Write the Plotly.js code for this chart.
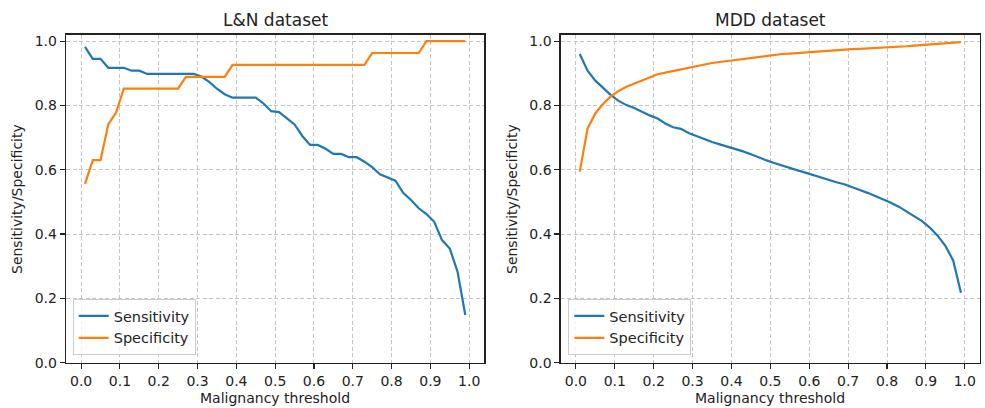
<!DOCTYPE html>
<html>
<head>
<meta charset="utf-8">
<script src="https://cdn.plot.ly/plotly-3.0.1.min.js"></script>
<style>html,body{margin:0;padding:0;background:#fff;}#chart{width:985px;height:408px;}</style>
</head>
<body>
<div id="chart"></div>
<script>
// Thresholds (shared by both panels)
const thresholds = [0.01,0.03,0.05,0.07,0.09,0.11,0.13,0.15,0.17,0.19,0.21,0.23,0.25,0.27,0.29,0.31,0.33,0.35,0.37,0.39,0.41,0.43,0.45,0.47,0.49,0.51,0.53,0.55,0.57,0.59,0.61,0.63,0.65,0.67,0.69,0.71,0.73,0.75,0.77,0.79,0.81,0.83,0.85,0.87,0.89,0.91,0.93,0.95,0.97,0.99];

// L&N dataset
const lnSensitivity = [0.982,0.945,0.945,0.917,0.917,0.917,0.908,0.908,0.898,0.898,0.898,0.898,0.898,0.898,0.898,0.890,0.873,0.852,0.835,0.824,0.824,0.824,0.824,0.806,0.782,0.779,0.760,0.741,0.705,0.677,0.677,0.665,0.649,0.649,0.639,0.639,0.625,0.608,0.586,0.575,0.566,0.528,0.506,0.480,0.462,0.438,0.381,0.355,0.283,0.148];
const lnSpecificity = [0.556,0.630,0.630,0.741,0.778,0.852,0.852,0.852,0.852,0.852,0.852,0.852,0.852,0.889,0.889,0.889,0.889,0.889,0.889,0.926,0.926,0.926,0.926,0.926,0.926,0.926,0.926,0.926,0.926,0.926,0.926,0.926,0.926,0.926,0.926,0.926,0.926,0.963,0.963,0.963,0.963,0.963,0.963,0.963,1.0,1.0,1.0,1.0,1.0,1.0];

// MDD dataset
const mddSensitivity = [0.960,0.908,0.877,0.853,0.832,0.814,0.801,0.792,0.780,0.769,0.759,0.744,0.732,0.727,0.714,0.705,0.694,0.686,0.679,0.672,0.666,0.657,0.648,0.638,0.629,0.621,0.613,0.604,0.598,0.591,0.583,0.575,0.567,0.561,0.555,0.545,0.537,0.528,0.518,0.509,0.497,0.485,0.470,0.455,0.440,0.420,0.395,0.363,0.318,0.217];
const mddSpecificity = [0.594,0.728,0.775,0.805,0.828,0.845,0.858,0.868,0.877,0.888,0.897,0.902,0.907,0.913,0.918,0.922,0.928,0.932,0.935,0.938,0.942,0.946,0.948,0.951,0.953,0.956,0.960,0.961,0.963,0.965,0.967,0.968,0.970,0.972,0.974,0.975,0.976,0.977,0.978,0.979,0.980,0.982,0.984,0.986,0.988,0.990,0.991,0.992,0.994,0.997];

const titles = ["L&N dataset", "MDD dataset"];
const xTitle = "Malignancy threshold";
const yTitle = "Sensitivity/Specificity";
const seriesNames = ["Sensitivity", "Specificity"];

const BLUE = "#1f77b4", ORANGE = "#ff7f0e";
const FONT = "DejaVu Sans, Verdana, sans-serif";
const W = 985, H = 408;
const LW = 2.2;

const traces = [
  {x: thresholds, y: lnSensitivity, name: seriesNames[0], mode: "lines", line: {color: BLUE, width: LW}, xaxis: "x", yaxis: "y", legend: "legend"},
  {x: thresholds, y: lnSpecificity, name: seriesNames[1], mode: "lines", line: {color: ORANGE, width: LW}, xaxis: "x", yaxis: "y", legend: "legend"},
  {x: thresholds, y: mddSensitivity, name: seriesNames[0], mode: "lines", line: {color: BLUE, width: LW}, xaxis: "x2", yaxis: "y2", legend: "legend2"},
  {x: thresholds, y: mddSpecificity, name: seriesNames[1], mode: "lines", line: {color: ORANGE, width: LW}, xaxis: "x2", yaxis: "y2", legend: "legend2"}
];

// pixel frame positions
const px = v => v / W, py = v => 1 - v / H;
const yDom = [py(362.6), py(34.7)];

const GRID = {showgrid: true, gridcolor: "#c4c4c4", griddash: "4px,2.5px", gridwidth: 1};

function xAxis(domain, anchor) {
  return Object.assign({
    domain: domain, anchor: anchor, range: [-0.039, 1.039],
    tickmode: "linear", tick0: 0, dtick: 0.1, tickformat: ".1f",
    showline: true, mirror: true, linecolor: "#222", linewidth: 1.3,
    ticks: "outside", ticklen: 5, tickcolor: "#222", tickwidth: 1.1,
    zeroline: false, automargin: false,
    tickfont: {family: FONT, size: 14, color: "#222"}
  }, GRID);
}
function yAxis(anchor) {
  return Object.assign({
    domain: yDom, anchor: anchor, range: [0, 1.02],
    tickmode: "array", tickvals: [0, 0.2, 0.4, 0.6, 0.8, 1.0], tickformat: ".1f",
    showline: true, mirror: true, linecolor: "#222", linewidth: 1.3,
    ticks: "outside", ticklen: 5, tickcolor: "#222", tickwidth: 1.1,
    zeroline: false, automargin: false,
    tickfont: {family: FONT, size: 14, color: "#222"}
  }, GRID);
}

const legendStyle = (xpx) => ({
  x: px(xpx), y: py(355), xanchor: "left", yanchor: "bottom",
  bgcolor: "rgba(255,255,255,0.8)", bordercolor: "#cccccc", borderwidth: 1,
  font: {family: FONT, size: 14.5, color: "#222"},
  itemwidth: 30, tracegroupgap: 0
});

const ann = [];
const centers = [275, 770];
for (let i = 0; i < 2; i++) {
  ann.push({text: titles[i], x: px(centers[i]), y: py(20), xref: "paper", yref: "paper", showarrow: false,
    xanchor: "center", yanchor: "middle", font: {family: FONT, size: 17, color: "#222"}});
  ann.push({text: xTitle, x: px(centers[i]), y: py(398), xref: "paper", yref: "paper", showarrow: false,
    xanchor: "center", yanchor: "middle", font: {family: FONT, size: 14, color: "#222"}});
}
ann.push({text: yTitle, x: px(17), y: py(199), xref: "paper", yref: "paper", showarrow: false, textangle: -90,
  xanchor: "center", yanchor: "middle", font: {family: FONT, size: 14, color: "#222"}});
ann.push({text: yTitle, x: px(512), y: py(199), xref: "paper", yref: "paper", showarrow: false, textangle: -90,
  xanchor: "center", yanchor: "middle", font: {family: FONT, size: 14, color: "#222"}});

const layout = {
  width: W, height: H,
  margin: {l: 0, r: 0, t: 0, b: 0},
  paper_bgcolor: "#fff", plot_bgcolor: "#fff",
  font: {family: FONT, color: "#222"},
  xaxis: xAxis([px(66), px(484.3)], "y"),
  yaxis: yAxis("x"),
  xaxis2: xAxis([px(560.7), px(980)], "y2"),
  yaxis2: yAxis("x2"),
  legend: legendStyle(72.7),
  legend2: legendStyle(568.3),
  showlegend: true,
  annotations: ann
};

Plotly.newPlot("chart", traces, layout, {displayModeBar: false, staticPlot: true});
</script>
</body>
</html>
